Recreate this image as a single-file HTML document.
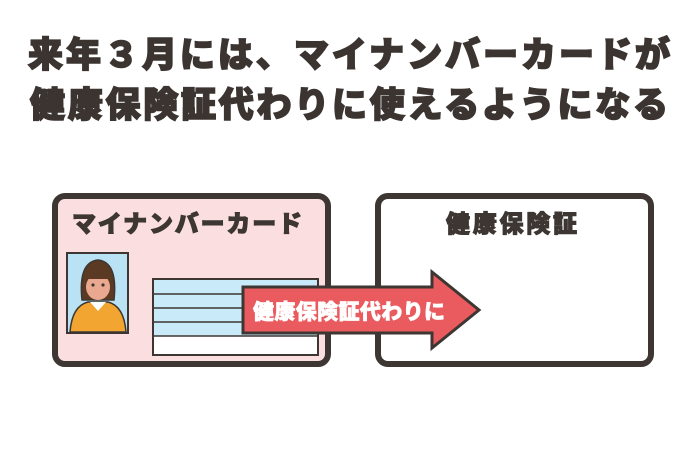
<!DOCTYPE html>
<html><head><meta charset="utf-8"><style>
html,body{margin:0;padding:0;background:#fff;}
svg{display:block;}
text{font-family:"Liberation Sans","Noto Sans CJK JP",sans-serif;font-weight:900;}
</style></head><body>
<svg width="700" height="455" viewBox="0 0 700 455" xmlns="http://www.w3.org/2000/svg">
<rect width="700" height="455" fill="#fff"/>
<text x="28" y="67" font-size="35" fill="#3b3431" stroke="#3b3431" stroke-width="1.6" textLength="642" lengthAdjust="spacing">来年３月には、マイナンバーカードが</text>
<text x="30" y="117" font-size="35" fill="#3b3431" stroke="#3b3431" stroke-width="1.6" textLength="638" lengthAdjust="spacing">健康保険証代わりに使えるようになる</text>

<!-- left card -->
<rect x="55" y="196" width="273" height="168" rx="10" fill="#fbdfe0" stroke="#3d3632" stroke-width="6"/>
<text x="72" y="232" font-size="24" fill="#3d3632" stroke="#3d3632" stroke-width="1" textLength="230" lengthAdjust="spacing">マイナンバーカード</text>
<!-- photo -->
<rect x="67" y="253" width="61" height="80" fill="#b9e2f4" stroke="#3d3632" stroke-width="2"/>
<path d="M70 332 Q72 306 88 302 L108 302 Q124 306 126 332 Z" fill="#f2a531" stroke="#3d3632" stroke-width="1.5"/>
<path d="M90 302 L98 311 L106 302 Z" fill="#fff"/>
<path d="M82 300 Q78 262 98 260 Q118 262 114 300 Z" fill="#5a3a22" stroke="#3d3632" stroke-width="1.5"/>
<ellipse cx="98" cy="287" rx="12" ry="13" fill="#eaa890"/>
<rect x="86" y="270" width="24" height="9" fill="#5a3a22"/>
<circle cx="93" cy="285" r="1.6" fill="#3d3632"/><circle cx="103" cy="285" r="1.6" fill="#3d3632"/>
<!-- lines box -->
<rect x="153" y="279" width="165" height="76" fill="#fff" stroke="#3d3632" stroke-width="2"/>
<rect x="154" y="280" width="163" height="56" fill="#c9eaf8"/>
<g stroke="#3d3632" stroke-width="1.5">
<line x1="153" y1="294" x2="318" y2="294"/>
<line x1="153" y1="308" x2="318" y2="308"/>
<line x1="153" y1="322" x2="318" y2="322"/>
<line x1="153" y1="336" x2="318" y2="336"/>
</g>

<!-- right card -->
<rect x="378" y="196" width="273" height="168" rx="10" fill="#fff" stroke="#3d3632" stroke-width="6"/>
<text x="446" y="232" font-size="24" fill="#3d3632" stroke="#3d3632" stroke-width="1" textLength="131" lengthAdjust="spacing">健康保険証</text>

<!-- arrow -->
<path d="M243 287 L432 287 L432 272 L479 310 L432 348 L432 333 L243 333 Z" fill="#ea5b5f" stroke="#3d3632" stroke-width="3" stroke-linejoin="miter"/>
<text x="253" y="319" font-size="21" fill="#fff" stroke="#fff" stroke-width="0.7" textLength="192" lengthAdjust="spacing">健康保険証代わりに</text>
</svg>
</body></html>
